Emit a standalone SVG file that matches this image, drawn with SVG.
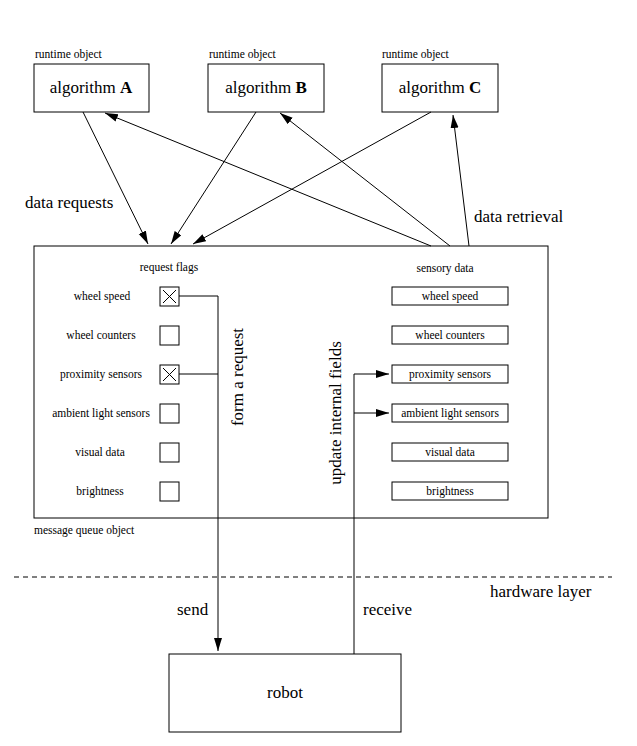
<svg xmlns="http://www.w3.org/2000/svg" width="637" height="746" viewBox="0 0 637 746">
<style>
rect{fill:#fff;stroke:#000;stroke-width:1}
.big{font-family:'Liberation Serif','Times New Roman',Times,'DejaVu Serif',serif;font-size:17px;fill:#000}
.sm{font-family:'Liberation Serif','Times New Roman',Times,'DejaVu Serif',serif;font-size:11.5px;fill:#000}
.c{text-anchor:middle}
.ln{fill:none;stroke:#000;stroke-width:1}
.ar{marker-end:url(#ah)}
</style>
<defs>
<marker id="ah" markerUnits="userSpaceOnUse" markerWidth="14" markerHeight="10" refX="13" refY="4" orient="auto">
<path d="M0,0 L13,4 L0,8 z" fill="#000"/>
</marker>
</defs>
<rect x="0" y="0" width="637" height="746" style="stroke:none"/>

<g id="algA">
<text class="sm" x="35" y="58">runtime object</text>
<rect x="34" y="64" width="115" height="48"/>
<text class="big c" x="91" y="93">algorithm <tspan font-weight="bold">A</tspan></text>
</g>
<g id="algB">
<text class="sm" x="209" y="58">runtime object</text>
<rect x="208" y="64" width="116" height="48"/>
<text class="big c" x="266" y="93">algorithm <tspan font-weight="bold">B</tspan></text>
</g>
<g id="algC">
<text class="sm" x="382" y="58">runtime object</text>
<rect x="382" y="64" width="116" height="48"/>
<text class="big c" x="440" y="93">algorithm <tspan font-weight="bold">C</tspan></text>
</g>

<g id="mq">
<rect x="34" y="246" width="514" height="272"/>
<text class="sm" x="34" y="534">message queue object</text>
<text class="sm c" x="169" y="271">request flags</text>
<text class="sm c" x="445" y="272">sensory data</text>
<g id="flags">
<text class="sm c" x="102" y="300">wheel speed</text>
<rect x="160" y="287" width="19" height="19"/>
<path class="ln" d="M163,290 L176,303 M176,290 L163,303"/>
<text class="sm c" x="101" y="339">wheel counters</text>
<rect x="160" y="326" width="19" height="19"/>
<text class="sm c" x="101" y="378">proximity sensors</text>
<rect x="160" y="365" width="19" height="19"/>
<path class="ln" d="M163,368 L176,381 M176,368 L163,381"/>
<text class="sm c" x="101" y="417">ambient light sensors</text>
<rect x="160" y="404" width="19" height="19"/>
<text class="sm c" x="100" y="456">visual data</text>
<rect x="160" y="443" width="19" height="19"/>
<text class="sm c" x="100" y="495">brightness</text>
<rect x="160" y="482" width="19" height="19"/>
</g>
<g id="sensory">
<rect x="392" y="287" width="116" height="18"/>
<text class="sm c" x="450" y="300">wheel speed</text>
<rect x="392" y="326" width="116" height="18"/>
<text class="sm c" x="450" y="339">wheel counters</text>
<rect x="392" y="365" width="116" height="18"/>
<text class="sm c" x="450" y="378">proximity sensors</text>
<rect x="392" y="404" width="116" height="18"/>
<text class="sm c" x="450" y="417">ambient light sensors</text>
<rect x="392" y="443" width="116" height="18"/>
<text class="sm c" x="450" y="456">visual data</text>
<rect x="392" y="482" width="116" height="18"/>
<text class="sm c" x="450" y="495">brightness</text>
</g>
</g>

<g id="robot">
<rect x="169" y="654" width="232" height="78"/>
<text class="big c" x="285" y="698">robot</text>
</g>

<g id="connectors">
<line class="ln ar" x1="83" y1="112" x2="148" y2="244"/>
<line class="ln ar" x1="256" y1="112" x2="171" y2="244"/>
<line class="ln ar" x1="431" y1="112" x2="193" y2="244"/>
<line class="ln ar" x1="431" y1="246" x2="105" y2="113"/>
<line class="ln ar" x1="450" y1="246" x2="280" y2="113"/>
<line class="ln ar" x1="469" y1="246" x2="453" y2="115"/>
<path class="ln" d="M179,374 L218,374"/>
<path class="ln ar" d="M179,296 L218,296 L218,651"/>
<path class="ln ar" d="M354,654 L354,374 L389,374"/>
<path class="ln ar" d="M354,413 L389,413"/>
<line class="ln" x1="14" y1="577" x2="612" y2="577" stroke-dasharray="5,4"/>
<text class="big" x="25" y="208">data requests</text>
<text class="big" x="474" y="222">data retrieval</text>
<text class="big c" transform="translate(243,377) rotate(-90)">form a request</text>
<text class="big c" transform="translate(341,413) rotate(-90)">update internal fields</text>
<text class="big" x="177" y="615">send</text>
<text class="big" x="363" y="615">receive</text>
<text class="big" x="490" y="597">hardware layer</text>
</g>
</svg>
